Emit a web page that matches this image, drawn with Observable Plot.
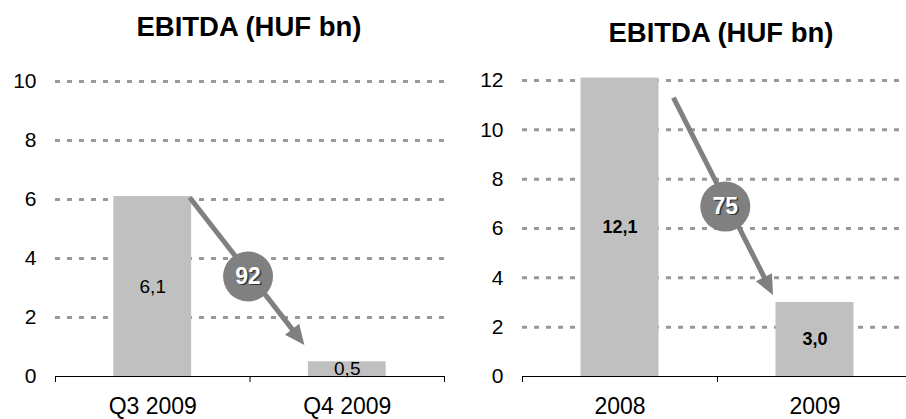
<!DOCTYPE html>
<html>
<head>
<meta charset="utf-8">
<script src="https://cdn.jsdelivr.net/npm/d3@7"></script>
<script src="https://cdn.jsdelivr.net/npm/@observablehq/plot@0.6"></script>
<style>
  html, body { margin: 0; padding: 0; background: #fff; }
  #wrap { position: relative; width: 906px; height: 419px; overflow: hidden; font-family: "Liberation Sans", Arial, sans-serif; }
  .panel { position: absolute; top: 0; width: 453px; height: 419px; }
  .title { position: absolute; font-weight: bold; font-size: 27.5px; line-height: 28px; white-space: nowrap; transform: translateX(-50%); color: #000; z-index: 2; }
  svg { display: block; }
</style>
</head>
<body>
<div id="wrap">
  <div class="panel" id="left" style="left:0"></div>
  <div class="panel" id="right" style="left:453px"></div>
</div>
<script>
// ---- data ----
const titles = ["EBITDA (HUF bn)", "EBITDA (HUF bn)"];
const leftCategories = ["Q3 2009", "Q4 2009"];
const leftValues = [6.1, 0.5];
const leftTicks = [0, 2, 4, 6, 8, 10];
const leftChange = "92";
const rightCategories = ["2008", "2009"];
const rightValues = [12.1, 3.0];
const rightTicks = [0, 2, 4, 6, 8, 10, 12];
const rightChange = "75";

// annotation anchors in data units (x: category index space, y: HUF bn)
const leftArrow = {x1: 0.69, y1: 6.07, x2: 1.282, y2: 1.05, cx: 0.99, cy: 3.39};
const rightArrow = {x1: 0.774, y1: 11.31, x2: 1.287, y2: 3.28, cx: 1.04, cy: 6.89};

const fmt = v => v.toFixed(1).replace(".", ",");

function panel(el, title, titleX, titleTop, cats, vals, ticks, change, arrow, opts) {
  const data = cats.map((c, i) => ({cat: c, i, value: vals[i]}));
  const ymax = ticks[ticks.length - 1];
  const plot = Plot.plot({
    width: 453,
    height: 419,
    marginLeft: opts.marginLeft,
    marginRight: opts.marginRight,
    marginTop: opts.marginTop,
    marginBottom: 43,
    style: {fontFamily: '"Liberation Sans", Arial, sans-serif', fontSize: "21px", color: "#000", background: "transparent", overflow: "visible"},
    x: {domain: [0, cats.length], axis: null},
    y: {domain: [0, ymax], axis: null},
    marks: [
      Plot.gridY(ticks.filter(t => t > 0), {stroke: "#999", strokeOpacity: 1, strokeWidth: 3, strokeDasharray: "5 7"}),
      Plot.rect(data, {x1: d => d.i + 0.3, x2: d => d.i + 0.7, y1: 0, y2: "value", fill: "#c0c0c0"}),
      Plot.axisY(ticks, {tickSize: 0, tickPadding: 19, fontSize: 21}),
      Plot.ruleY([0], {stroke: "#000", strokeWidth: 1}),
      Plot.axisX(d3.range(cats.length + 1), {tickSize: 6, tickFormat: () => "", stroke: "#000"}),
      Plot.axisX(cats.map((c, i) => i + 0.5), {tickSize: 0, tickPadding: 21, fontSize: 23, tickFormat: d => cats[Math.floor(d)]}),
      Plot.text(data, {x: d => d.i + 0.5, y: d => d.value / 2, text: d => fmt(d.value), fontSize: opts.labelSize, fontWeight: opts.labelWeight, fill: "#000"}),
      Plot.arrow([arrow], {x1: "x1", y1: "y1", x2: "x2", y2: "y2", stroke: "#808080", strokeWidth: 5, headLength: 0, insetEnd: 16, strokeLinecap: "butt"}),
      Plot.dot([arrow], {x: "cx", y: "cy", r: 25, fill: "#808080", stroke: "none"}),
      Plot.text([arrow], {x: "cx", y: "cy", text: () => change, fontSize: 23, fontWeight: "bold", fill: "#333", dx: 1.5, dy: 1.5}),
      Plot.text([arrow], {x: "cx", y: "cy", text: () => change, fontSize: 23, fontWeight: "bold", fill: "#fff"})
    ]
  });
  // filled arrow head, positioned through the plot's own scales
  const xs = plot.scale("x"), ys = plot.scale("y");
  const sx = d3.scaleLinear(xs.domain, xs.range), sy = d3.scaleLinear(ys.domain, ys.range);
  const p1 = [sx(arrow.x1), sy(arrow.y1)], p2 = [sx(arrow.x2), sy(arrow.y2)];
  const dxp = p2[0] - p1[0], dyp = p2[1] - p1[1], len = Math.hypot(dxp, dyp);
  const u = [dxp / len, dyp / len], n = [-u[1], u[0]];
  const L = 20, W = 9;
  const b = [p2[0] - u[0] * L, p2[1] - u[1] * L];
  const pts = [p2, [b[0] + n[0] * W, b[1] + n[1] * W], [b[0] - n[0] * W, b[1] - n[1] * W]];
  d3.select(plot).append("polygon").attr("points", pts.map(p => p.join(",")).join(" ")).attr("fill", "#808080");

  el.appendChild(plot);
  const t = document.createElement("div");
  t.className = "title";
  t.textContent = title;
  t.style.left = titleX + "px";
  t.style.top = titleTop + "px";
  el.appendChild(t);
}

panel(document.getElementById("left"), titles[0], 249, 13, leftCategories, leftValues, leftTicks, leftChange, leftArrow,
  {marginLeft: 55, marginRight: 9, marginTop: 81, labelWeight: "normal", labelSize: 19});
panel(document.getElementById("right"), titles[1], 268, 19, rightCategories, rightValues, rightTicks, rightChange, rightArrow,
  {marginLeft: 69, marginRight: -6, marginTop: 80, labelWeight: "bold", labelSize: 18});
</script>
</body>
</html>
